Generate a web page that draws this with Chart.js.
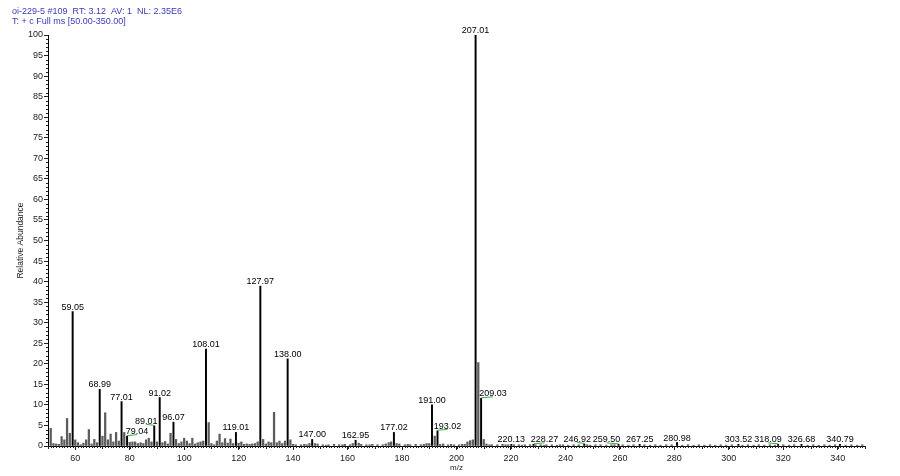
<!DOCTYPE html>
<html><head><meta charset="utf-8">
<script src="https://cdn.jsdelivr.net/npm/chart.js@4/dist/chart.umd.min.js"></script>
<style>html,body{margin:0;padding:0;background:#fff;}canvas{display:block;}</style>
</head><body>
<canvas id="c" width="900" height="476"></canvas>
<script>
// ---- data ----
const headerLines = ['oi-229-5 #109  RT: 3.12  AV: 1  NL: 2.35E6', 'T: + c Full ms [50.00-350.00]'];
const labeledMz  = [59.05, 68.99, 77.01, 79.04, 89.01, 91.02, 96.07, 108.01, 119.01, 127.97, 138.00, 147.00, 162.95, 177.02, 191.00, 193.02, 207.01, 209.03, 220.13, 228.27, 246.92, 259.50, 267.25, 280.98, 303.52, 318.09, 326.68, 340.79];
const labeledInt = [32.7, 13.8, 10.8, 2.4, 4.9, 11.8, 5.8, 23.6, 3.3, 38.9, 21.2, 1.6, 1.4, 3.3, 10.0, 3.7, 100, 11.6, 0.4, 0.4, 0.5, 0.4, 0.4, 0.85, 0.4, 0.4, 0.4, 0.4];
const unlabeledPeaks = [
  [51,4.3],[52,0.6],[53,0.5],[54,0.4],[55,2.3],[56,1.5],[57,6.7],[58,3.1],[60,1.5],[61,0.8],[62,0.3],[63,0.7],
  [64,1.5],[65,4.0],[66,0.5],[67,1.6],[68,0.8],[70,2.4],[71,8.1],[72,1.5],[73,2.9],[74,1.0],[75,3.3],[76,1.2],
  [78,3.3],[80,0.9],[81,1.0],[82,1.0],[83,0.6],[84,0.8],[85,0.6],[86,1.5],[87,1.9],[88,1.0],[90,1.0],[92,0.8],
  [93,1.1],[94,0.5],[95,3.1],[97,1.6],[98,0.6],[99,1.0],[100,1.9],[101,1.2],[102,0.6],[103,1.9],[104,0.5],[105,0.8],
  [106,1.0],[107,1.2],[109,5.7],[110,0.6],[111,0.3],[112,1.2],[113,2.9],[114,0.8],[115,1.8],[116,0.7],[117,1.7],
  [118,0.6],[120,0.7],[121,1.0],[122,0.4],[123,0.5],[124,0.4],[125,0.5],[126,0.6],[127,1.0],[129,1.6],[130,0.5],
  [131,1.0],[132,0.8],[133,8.2],[134,0.8],[135,1.2],[136,0.6],[137,1.2],[139,1.5],[140,0.4],[141,0.3],[142.9,0.3],
  [144.1,0.4],[145,0.3],[146,0.6],[148,0.6],[149,0.5],[150.9,0.3],[152.1,0.2],[153,0.3],[155,0.4],[156.9,0.3],
  [158.1,0.3],[159,0.4],[160.9,0.3],[161.9,0.6],[164.1,0.7],[165,0.4],[166.9,0.3],[168.1,0.3],[169.1,0.4],[171,0.3],
  [172.9,0.3],[174,0.5],[175.1,0.8],[176,1.0],[178,0.6],[179,0.5],[181,0.3],[182.1,0.4],[183,0.3],[185,0.4],
  [186.9,0.3],[188,0.4],[189,0.6],[190,0.6],[192,2.4],[194,0.4],[195.1,0.5],[196.9,0.3],[198,0.4],[199.1,0.3],
  [200.9,0.3],[202,0.4],[203,0.4],[204,1.0],[205,1.3],[206,1.5],[208,20.3],[210,1.6],[211,0.5],[212.1,0.3],[213,0.3],
  [215,0.3],[216.9,0.4],[218,0.3],[219,0.3],[221.1,0.3],[222.9,0.3],[224,0.2],[225.1,0.3],[227,0.3],[229,0.3],
  [230.9,0.3],[232.1,0.2],[233,0.3],[235,0.3],[236.9,0.2],[238,0.3],[239.1,0.3],[241,0.2],[243,0.3],[244.9,0.3],
  [248,0.3],[249.1,0.2],[251,0.3],[252.9,0.3],[255,0.2],[256.9,0.3],[258,0.3],[261,0.3],[263.1,0.2],[265,0.3],
  [269,0.3],[271.1,0.2],[273,0.3],[274.9,0.2],[277,0.3],[279,0.3],[282.9,0.2],[285,0.3],[287.1,0.2],[289,0.3],
  [291,0.2],[293.1,0.3],[295,0.2],[297,0.3],[299,0.2],[301.1,0.3],[305,0.2],[307,0.3],[309.1,0.2],[311,0.3],
  [313,0.2],[315.1,0.3],[316.9,0.2],[320,0.3],[322.1,0.2],[324,0.3],[328.9,0.2],[331,0.3],[333,0.2],[335.1,0.3],
  [337,0.2],[339,0.3],[342.9,0.2],[345,0.3],[347.1,0.2],[349,0.3]
];
const xTickValues = [60,80,100,120,140,160,180,200,220,240,260,280,300,320,340];
const yTickValues = [0,5,10,15,20,25,30,35,40,45,50,55,60,65,70,75,80,85,90,95,100];
const xRange = [50, 350];
const yRange = [0, 100];

// ---- plugins ----
const minorTicks = {
  id: 'minorTicks',
  afterDraw(chart) {
    const {ctx} = chart, xs = chart.scales.x, ys = chart.scales.y;
    const y0 = ys.getPixelForValue(yRange[0]);
    const x0 = xs.getPixelForValue(xRange[0]);
    ctx.save();
    ctx.strokeStyle = '#222';
    ctx.lineWidth = 1;
    ctx.beginPath();
    for (let v = Math.ceil(xRange[0]); v <= xRange[1]; v++) {
      const px = Math.round(xs.getPixelForValue(v)) + 0.5;
      const len = (v % 10 === 0) ? 3 : 2;
      ctx.moveTo(px, y0); ctx.lineTo(px, y0 + len);
    }
    for (let v = yRange[0]; v <= yRange[1]; v++) {
      if (v % 5 === 0) continue;
      const py = Math.round(ys.getPixelForValue(v)) + 0.5;
      ctx.moveTo(x0, py); ctx.lineTo(x0 - 2, py);
    }
    ctx.stroke();
    ctx.restore();
  }
};

const peakLabels = {
  id: 'peakLabels',
  afterDatasetsDraw(chart, args, opts) {
    const {ctx} = chart, xs = chart.scales.x, ys = chart.scales.y;
    ctx.save();
    ctx.font = '9px "Liberation Sans", Arial, sans-serif';
    ctx.textAlign = 'center';
    ctx.textBaseline = 'alphabetic';
    labeledMz.forEach((mz, i) => {
      const txt = mz.toFixed(2);
      const px = xs.getPixelForValue(mz);
      const py = ys.getPixelForValue(labeledInt[i]);
      const dx = opts.shift[txt] || 0;
      if (dx) {
        ctx.strokeStyle = '#3cb043';
        ctx.lineWidth = 1;
        ctx.beginPath();
        ctx.moveTo(px, py - 0.5);
        ctx.lineTo(px + dx, py - 1.5);
        ctx.stroke();
      }
      ctx.fillStyle = '#000';
      ctx.fillText(txt, px + dx, py - 2);
    });
    ctx.restore();
  }
};

new Chart(document.getElementById('c'), {
  type: 'bar',
  data: {
    datasets: [
      {
        label: 'unlabeled',
        data: unlabeledPeaks.map(p => ({x: p[0], y: p[1]})),
        backgroundColor: '#5c5c5c',
        barThickness: 1.6,
        grouped: false,
        borderWidth: 0
      },
      {
        label: 'labeled',
        data: labeledMz.map((m, i) => ({x: m, y: labeledInt[i]})),
        backgroundColor: '#000',
        barThickness: 1.3,
        grouped: false,
        borderWidth: 0
      }
    ]
  },
  options: {
    responsive: false,
    animation: false,
    devicePixelRatio: 1,
    layout: {padding: {left: 12, right: 35, top: 0, bottom: 0}},
    plugins: {
      legend: {display: false},
      tooltip: {enabled: false},
      title: {
        display: true,
        text: headerLines,
        align: 'start',
        color: '#3a3ab8',
        font: {family: '"Liberation Sans", Arial, sans-serif', size: 9, weight: 'normal', lineHeight: 1.15},
        padding: {top: 6, bottom: 8.3}
      },
      peakLabels: {
        shift: {'79.04': 10, '89.01': -8, '193.02': 10, '209.03': 12, '228.27': 11, '246.92': -7, '259.50': -12, '318.09': -10}
      }
    },
    scales: {
      x: {
        type: 'linear',
        min: xRange[0], max: xRange[1],
        offset: false,
        afterFit(s) { s.height = 30; },
        afterBuildTicks(s) { s.ticks = xTickValues.map(v => ({value: v})); },
        grid: {display: true, drawOnChartArea: false, drawTicks: true, tickLength: 4, tickColor: '#222', offset: false},
        border: {display: true, color: '#000', width: 1},
        ticks: {color: '#222', padding: 3, maxRotation: 0, autoSkip: false,
                font: {family: '"Liberation Sans", Arial, sans-serif', size: 9}},
        title: {display: true, text: 'm/z', color: '#222', padding: {top: 0, bottom: 3.2},
                font: {family: '"Liberation Sans", Arial, sans-serif', size: 8}}
      },
      y: {
        min: yRange[0], max: yRange[1],
        afterFit(s) { s.width = 36; },
        afterBuildTicks(s) { s.ticks = yTickValues.map(v => ({value: v})); },
        grid: {display: true, drawOnChartArea: false, drawTicks: true, tickLength: 4, tickColor: '#222'},
        border: {display: true, color: '#000', width: 1},
        ticks: {color: '#222', padding: 1, autoSkip: false,
                font: {family: '"Liberation Sans", Arial, sans-serif', size: 9}},
        title: {display: true, text: 'Relative Abundance', color: '#222', padding: {top: 4, bottom: 0},
                font: {family: '"Liberation Sans", Arial, sans-serif', size: 8.5}}
      }
    }
  },
  plugins: [minorTicks, peakLabels]
});
</script>
</body></html>
